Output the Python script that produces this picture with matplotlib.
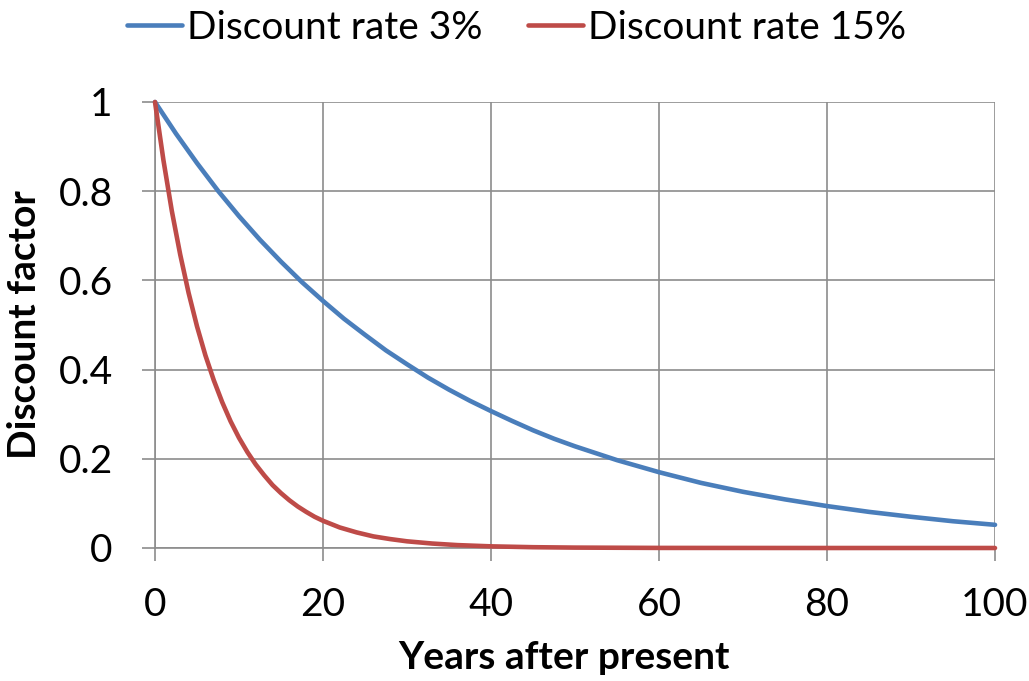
import numpy as np
import matplotlib
matplotlib.use("Agg")
import matplotlib.pyplot as plt

plt.rcParams['font.family'] = ['Lato', 'DejaVu Sans']

# values
years_3 = [0, 2.5, 5, 7.5, 10, 12.5, 15, 17.5, 20, 22.5, 25, 27.5, 30, 32.5, 35, 37.5, 40,
           42.5, 45, 47.5, 50, 55, 60, 65, 70, 75, 80, 85, 90, 95, 100]
factor_3 = [1.0, 0.929, 0.863, 0.801, 0.744, 0.691, 0.642, 0.596, 0.554, 0.514, 0.478,
            0.443, 0.412, 0.382, 0.355, 0.330, 0.307, 0.285, 0.264, 0.245, 0.228,
            0.197, 0.170, 0.146, 0.126, 0.109, 0.094, 0.081, 0.070, 0.060, 0.052]

years_15 = [0, 1, 2, 3, 4, 5, 6, 7, 8, 9, 10, 11, 12, 13, 14, 15, 16, 17, 18, 19, 20,
            22, 24, 26, 28, 30, 33, 36, 40, 45, 50, 60, 80, 100]
factor_15 = [1.0, 0.870, 0.756, 0.658, 0.572, 0.497, 0.432, 0.376, 0.327, 0.284, 0.247,
             0.215, 0.187, 0.163, 0.141, 0.123, 0.107, 0.093, 0.081, 0.070, 0.061,
             0.046, 0.035, 0.026, 0.020, 0.015, 0.010, 0.0065, 0.0037, 0.0018, 0.0009,
             0.0002, 0.0, 0.0]

x_ticks = [0, 20, 40, 60, 80, 100]
y_ticks = [0, 0.2, 0.4, 0.6, 0.8, 1]
y_labels = ['0', '0.2', '0.4', '0.6', '0.8', '1']

grid_col = '#8c8c8c'
fs = 28

fig = plt.figure(figsize=(10.29, 6.81), dpi=100)
ax = fig.add_axes([155 / 1029, 1 - 548 / 681, 840 / 1029, 446 / 681])

ax.plot(years_3, factor_3, color='#4a7ebb', lw=3.3, label='Discount rate 3%',
        solid_capstyle='round', solid_joinstyle='round', zorder=3, clip_on=False)
ax.plot(years_15, factor_15, color='#be4b48', lw=3.3, label='Discount rate 15%',
        solid_capstyle='round', solid_joinstyle='round', zorder=3, clip_on=False)

ax.set_xlim(0, 100)
ax.set_ylim(0, 1)
ax.set_xticks(x_ticks)
ax.set_yticks(y_ticks)
ax.set_yticklabels(y_labels)
ax.grid(True, color=grid_col, lw=1.2)
for s in ax.spines.values():
    s.set_visible(False)
for side in ['left', 'bottom']:
    ax.spines[side].set_visible(True)
    ax.spines[side].set_color(grid_col)
    ax.spines[side].set_linewidth(1.2)
ax.tick_params(axis='both', colors=grid_col, length=9.4, width=1.2, labelsize=fs,
               labelcolor='black')
ax.tick_params(axis='x', pad=19)
ax.tick_params(axis='y', pad=21)

ax.set_xlabel('Years after present', fontsize=fs, fontweight='bold', labelpad=12)
ax.xaxis.label.set_x(0.487)
ax.set_ylabel('Discount factor', fontsize=fs, fontweight='bold', labelpad=12)

fig.legend(loc='center left', bbox_to_anchor=(127 / 1029, 1 - 28 / 681),
           bbox_transform=fig.transFigure, ncol=2, frameon=False,
           fontsize=fs, handlelength=1.42, handletextpad=0.13, columnspacing=1.15,
           borderaxespad=0, borderpad=0)

fig.savefig('out.png', dpi=100)
